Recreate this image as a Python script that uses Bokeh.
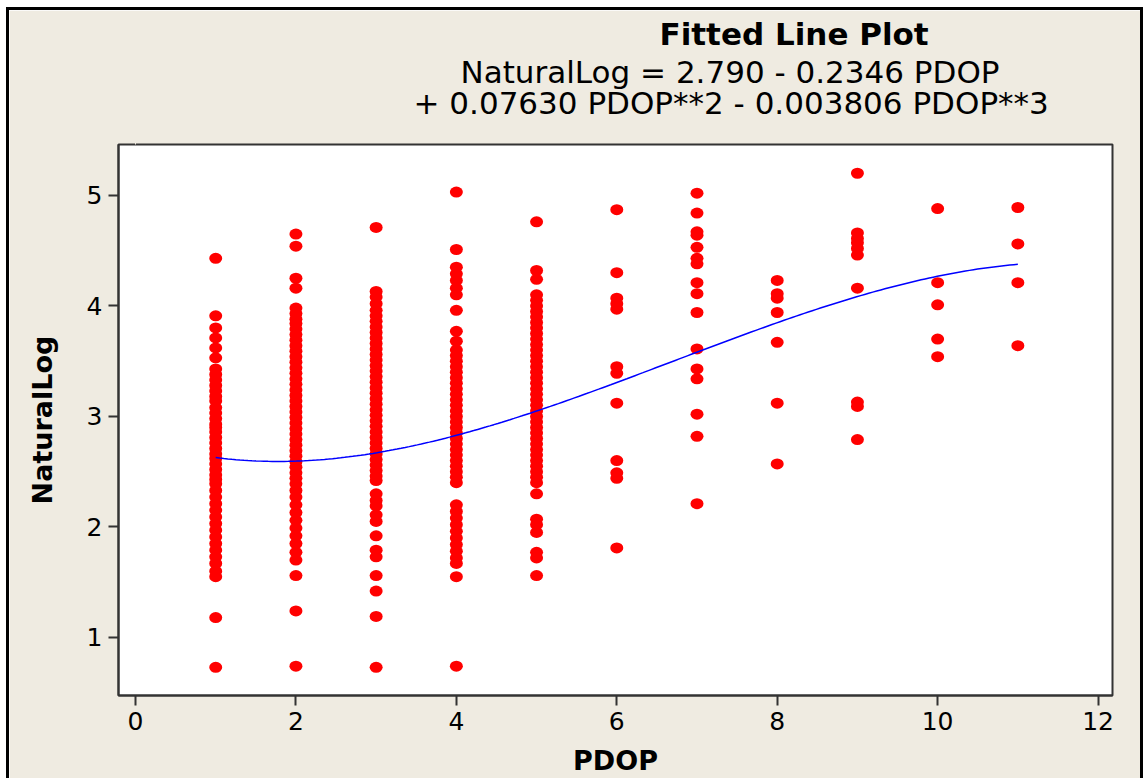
import numpy as np
from bokeh.plotting import figure
from bokeh.models import Title, FixedTicker, Range1d, ColumnDataSource, LinearAxis
from bokeh.embed import file_html
from bokeh.resources import INLINE

FONT = "DejaVu Sans"

# NaturalLog observations grouped by PDOP level
pdop_levels = [1, 2, 3, 4, 5, 6, 7, 8, 9, 10, 11]
natlog_p1 = [4.43, 3.91, 3.80, 3.71, 3.62, 3.53, 3.43, 3.38, 3.33, 3.28, 3.23, 3.18,
             3.14, 3.08, 3.03, 2.98, 2.93, 2.90, 2.86, 2.81, 2.76, 2.71, 2.66, 2.62,
             2.57, 2.52, 2.47, 2.43, 2.39, 2.33, 2.27, 2.21, 2.15, 2.09, 2.03, 1.97,
             1.91, 1.85, 1.79, 1.73, 1.67, 1.60, 1.55, 1.18, 0.73]
natlog_p2 = [4.65, 4.54, 4.25, 4.16, 3.98, 3.93, 3.88, 3.84, 3.79, 3.74, 3.69, 3.64,
             3.59, 3.54, 3.49, 3.44, 3.39, 3.34, 3.29, 3.24, 3.19, 3.14, 3.09, 3.04,
             2.99, 2.94, 2.89, 2.84, 2.79, 2.74, 2.69, 2.64, 2.59, 2.54, 2.49, 2.44,
             2.39, 2.33, 2.27, 2.20, 2.13, 2.06, 1.99, 1.92, 1.85, 1.77, 1.70, 1.56,
             1.24, 0.74]
natlog_p3 = [4.71, 4.13, 4.08, 4.02, 3.96, 3.91, 3.86, 3.81, 3.76, 3.71, 3.66, 3.61,
             3.56, 3.51, 3.46, 3.41, 3.36, 3.31, 3.26, 3.21, 3.16, 3.11, 3.06, 3.01,
             2.96, 2.91, 2.86, 2.81, 2.76, 2.71, 2.66, 2.61, 2.56, 2.51, 2.46, 2.42,
             2.30, 2.24, 2.19, 2.11, 2.05, 1.92, 1.79, 1.73, 1.56, 1.42, 1.19, 0.73]
natlog_p4 = [5.03, 4.51, 4.35, 4.29, 4.23, 4.16, 4.10, 3.96, 3.77, 3.68, 3.60, 3.55,
             3.50, 3.45, 3.40, 3.35, 3.30, 3.25, 3.20, 3.15, 3.10, 3.05, 3.00, 2.95,
             2.90, 2.85, 2.80, 2.75, 2.70, 2.65, 2.60, 2.55, 2.50, 2.45, 2.40, 2.20,
             2.14, 2.08, 2.02, 1.96, 1.90, 1.84, 1.78, 1.72, 1.67, 1.55, 0.74]
natlog_p5 = [4.76, 4.32, 4.24, 4.10, 4.05, 4.00, 3.95, 3.90, 3.85, 3.80, 3.75, 3.70,
             3.65, 3.60, 3.55, 3.50, 3.45, 3.40, 3.35, 3.30, 3.25, 3.20, 3.15, 3.10,
             3.05, 3.00, 2.95, 2.90, 2.85, 2.80, 2.75, 2.70, 2.65, 2.60, 2.55, 2.50,
             2.45, 2.40, 2.30, 2.07, 2.02, 1.95, 1.77, 1.72, 1.56]
natlog_p6 = [4.87, 4.30, 4.07, 4.02, 3.97, 3.45, 3.39, 3.12, 2.60, 2.49, 2.44, 1.81]
natlog_p7 = [5.02, 4.84, 4.67, 4.64, 4.53, 4.43, 4.38, 4.21, 4.11, 3.94, 3.61, 3.43,
             3.34, 3.02, 2.82, 2.21]
natlog_p8 = [4.23, 4.11, 4.07, 3.94, 3.67, 3.12, 2.57]
natlog_p9 = [5.20, 4.66, 4.61, 4.57, 4.52, 4.46, 4.16, 3.13, 3.09, 2.79]
natlog_p10 = [4.88, 4.21, 4.01, 3.70, 3.54]
natlog_p11 = [4.89, 4.56, 4.21, 3.64]

# cubic regression coefficients (constant, PDOP, PDOP**2, PDOP**3)
fit_coef = [2.790, -0.2346, 0.07630, -0.003806]

title_text = "Fitted Line Plot"
equation_lines = ["NaturalLog =  2.790 - 0.2346 PDOP",
                  "+ 0.07630 PDOP**2 - 0.003806 PDOP**3"]

x_ticks = [0, 2, 4, 6, 8, 10, 12]
y_ticks = [1, 2, 3, 4, 5]

groups = [natlog_p1, natlog_p2, natlog_p3, natlog_p4, natlog_p5, natlog_p6,
          natlog_p7, natlog_p8, natlog_p9, natlog_p10, natlog_p11]
xs, ys = [], []
for lvl, vals in zip(pdop_levels, groups):
    xs.extend([lvl] * len(vals))
    ys.extend(vals)
pts = ColumnDataSource(dict(x=xs, y=ys))

fx = np.linspace(min(pdop_levels), max(pdop_levels), 200)
fy = sum(c * fx ** i for i, c in enumerate(fit_coef))

BG = "#EFEBE1"
p = figure(
    frame_width=994, frame_height=551,
    min_border_left=109, min_border_right=28, min_border_top=134, min_border_bottom=83,
    x_range=Range1d(-0.212, 12.18), y_range=Range1d(0.475, 5.46),
    output_backend="svg", toolbar_location=None,
    background_fill_color="white", border_fill_color=BG,
)
p.styles = {"border-left": "3px solid #000", "border-top": "3px solid #000",
            "border-right": "3px solid #000", "margin-left": "6px", "margin-top": "7px"}

p.grid.visible = False
p.outline_line_color = "#333333"
p.outline_line_width = 2

for ax in (p.xaxis[0], p.yaxis[0]):
    ax.axis_line_color = "#333333"
    ax.axis_line_width = 2
    ax.major_tick_line_color = "#333333"
    ax.major_tick_line_width = 2
    ax.major_tick_out = 10
    ax.major_tick_in = 0
    ax.minor_tick_line_color = None
    ax.major_label_text_font = FONT
    ax.major_label_text_font_size = "25px"
    ax.major_label_text_color = "black"
    ax.axis_label_text_font = FONT
    ax.axis_label_text_font_size = "27px"
    ax.axis_label_text_font_style = "bold"
    ax.axis_label_text_color = "black"

p.xaxis.ticker = FixedTicker(ticks=x_ticks)
p.yaxis.ticker = FixedTicker(ticks=y_ticks)
p.xaxis.axis_label = "PDOP"
p.yaxis.axis_label = "NaturalLog"
p.xaxis.major_label_standoff = 6
p.yaxis.major_label_standoff = 6
p.xaxis.axis_label_standoff = 12
p.yaxis.axis_label_standoff = 26

p.ellipse(x="x", y="y", width=13, height=11, width_units="screen", height_units="screen",
          source=pts, fill_color="#FF0000", line_color=None)
p.line(fx, fy, line_color="#0000FF", line_width=1.5)

# blank strip between the frame and the header lines (ticks painted in the border colour)
gap = LinearAxis(ticker=FixedTicker(ticks=[0]), axis_line_color=None,
                 major_tick_line_color=BG, major_tick_line_width=1,
                 minor_tick_line_color=None,
                 major_tick_out=26, major_tick_in=0, minor_tick_out=0,
                 major_label_text_color=None, major_label_text_font_size="0px",
                 major_label_standoff=0, axis_label_standoff=0)
p.add_layout(gap, "above")

# header block: equation lines stacked under the bold title
p.add_layout(Title(text=equation_lines[1], align="left", offset=295, vertical_align="middle",
                   standoff=-7.5, text_font=FONT, text_font_size="31px",
                   text_font_style="normal", text_color="black"), "above")
p.add_layout(Title(text=equation_lines[0], align="left", offset=342, vertical_align="middle",
                   standoff=-7.5, text_font=FONT, text_font_size="31px",
                   text_font_style="normal", text_color="black"), "above")
p.add_layout(Title(text=title_text, align="left", offset=541, vertical_align="middle",
                   standoff=8, text_font=FONT, text_font_size="31px",
                   text_font_style="bold", text_color="black"), "above")

open("out.html", "w").write(file_html(p, INLINE))
